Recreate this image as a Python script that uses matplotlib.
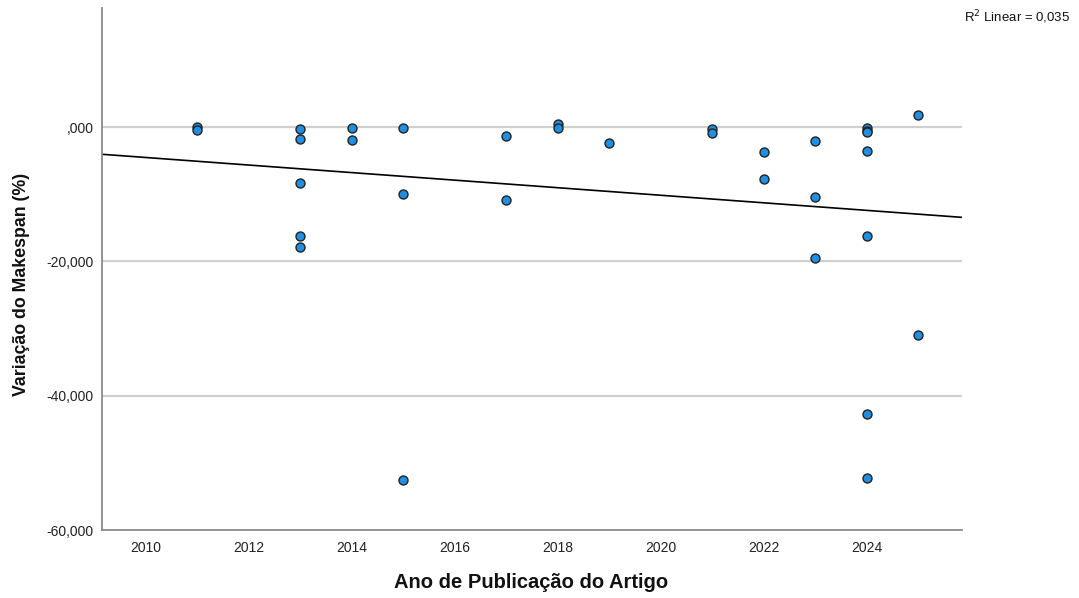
import numpy as np
import matplotlib
matplotlib.use("Agg")
import matplotlib.pyplot as plt
from matplotlib.ticker import FuncFormatter
from matplotlib import font_manager

plt.rcParams['font.family'] = ['Liberation Sans', 'DejaVu Sans']

years = [2011, 2011,
         2013, 2013, 2013, 2013, 2013,
         2014, 2014,
         2015, 2015, 2015,
         2017, 2017,
         2018, 2018,
         2019,
         2021, 2021,
         2022, 2022,
         2023, 2023, 2023,
         2024, 2024, 2024, 2024, 2024, 2024, 2024,
         2025, 2025]
variation = [0.0, -0.4,
             -0.3, -1.7, -8.3, -16.2, -17.8,
             -0.05, -1.9,
             -0.15, -10.0, -52.6,
             -1.25, -10.9,
             0.5, -0.05,
             -2.4,
             -0.25, -0.8,
             -3.7, -7.7,
             -2.0, -10.4, -19.55,
             -0.15, -0.6, -0.75, -3.5, -16.2, -42.7, -52.3,
             1.8, -31.0]

x_ticks = [2010, 2012, 2014, 2016, 2018, 2020, 2022, 2024]
y_ticks = [-60, -40, -20, 0]
r2_text = "0,035"

x = np.array(years, dtype=float)
y = np.array(variation, dtype=float)

fig = plt.figure(figsize=(10.79, 5.98), dpi=100)
ax = fig.add_axes([102/1079, 68/598, 860/1079, 522/598])

xlim = (2009.15, 2025.85)
ylim = (-60, 17.75)
ax.set_xlim(*xlim)
ax.set_ylim(*ylim)

for t in [-40, -20, 0]:
    ax.axhline(t, color='#d0d0d0', lw=1.6, zorder=1)

slope, intercept = np.polyfit(x, y, 1)
xx = np.array(xlim)
ax.plot(xx, slope * xx + intercept, color='black', lw=1.2, zorder=2)

ax.scatter(x, y, s=42, facecolor='#1e8fe3', edgecolor='#222222', linewidth=1.0, zorder=3)

ax.set_xticks(x_ticks)
ax.set_yticks(y_ticks)

def yfmt(v, pos):
    if abs(v) < 1e-9:
        return ",000"
    return f"{v:.3f}".replace(".", ",")

ax.yaxis.set_major_formatter(FuncFormatter(yfmt))
ax.tick_params(axis='both', length=0, labelsize=10, colors='#222222')
ax.tick_params(axis='x', pad=8)
ax.tick_params(axis='y', pad=6)

for side in ['top', 'right']:
    ax.spines[side].set_visible(False)
for side in ['left', 'bottom']:
    ax.spines[side].set_color('#8a8a8a')
    ax.spines[side].set_linewidth(1.3)

names = {f.name for f in font_manager.fontManager.ttflist}
yfam = ['Liberation Sans Narrow', 'Liberation Sans'] if 'Liberation Sans Narrow' in names else ['Liberation Sans']
ysize = 15 if 'Liberation Sans Narrow' in names else 12.8

ax.set_xlabel("Ano de Publicação do Artigo", fontsize=14.5, fontweight='bold', color='#111111')
ax.xaxis.set_label_coords((531 - 102) / 860, -(583 - 530) / 522)
ax.xaxis.label.set_va('center')
ax.set_ylabel("Variação do Makespan (%)", fontsize=ysize, fontweight='bold', family=yfam, color='#111111')
ax.yaxis.set_label_coords(-(102 - 22) / 860, (530 - 284) / 522)
ax.yaxis.label.set_va('center')

fig.text(1017/1079, 1 - 17/598, f"R$^2$ Linear = {r2_text}",
         ha='center', va='center', fontsize=9.5, color='#111111')

fig.savefig("out.png", dpi=100)
